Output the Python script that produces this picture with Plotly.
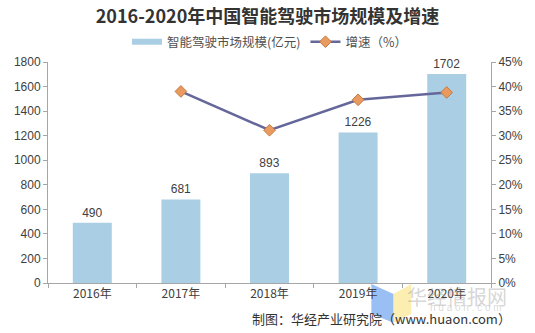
import plotly.graph_objects as go

years = ["2016年", "2017年", "2018年", "2019年", "2020年"]
market_size = [490, 681, 893, 1226, 1702]          # 亿元
growth_years = ["2017年", "2018年", "2019年", "2020年"]
growth_rate = [39.0, 31.1, 37.3, 38.8]             # %

left_ticks = [0, 200, 400, 600, 800, 1000, 1200, 1400, 1600, 1800]
right_ticks = [0, 5, 10, 15, 20, 25, 30, 35, 40, 45]

FONT = "Noto Sans CJK SC"
AXIS_COLOR = "#A6A6A6"
TEXT_COLOR = "#404040"
BAR_COLOR = "#AACFE4"

fig = go.Figure()

fig.add_trace(go.Bar(
    x=years, y=market_size,
    name="智能驾驶市场规模(亿元)",
    marker=dict(color=BAR_COLOR, line=dict(width=0)),
    text=[str(v) for v in market_size],
    textposition="outside",
    textfont=dict(size=12, color=TEXT_COLOR, family="Liberation Sans"),
    cliponaxis=False,
    showlegend=False,
    yaxis="y",
))

# wide flat swatch for the bar series in the legend
fig.add_trace(go.Scatter(
    x=[None], y=[None], mode="lines",
    name="智能驾驶市场规模(亿元)",
    line=dict(color=BAR_COLOR, width=6),
    yaxis="y",
))

fig.add_trace(go.Scatter(
    x=growth_years, y=growth_rate,
    name="增速（%）",
    mode="lines+markers",
    line=dict(color="#65679A", width=2.5),
    marker=dict(symbol="diamond", size=9, color="#E99A5E",
                line=dict(color="#C47A45", width=1)),
    yaxis="y2",
))

fig.update_layout(
    width=535, height=333,
    margin=dict(l=48, r=37, t=62, b=50),
    paper_bgcolor="white", plot_bgcolor="white",
    font=dict(family=FONT, color=TEXT_COLOR, size=12),
    title=dict(
        text="<b>2016-2020年中国智能驾驶市场规模及增速</b>",
        x=0.5, xanchor="center", y=0.95, yanchor="middle",
        font=dict(size=18, color="#333333", family=FONT),
    ),
    legend=dict(
        orientation="h", x=0.5, xanchor="center", y=1.09, yanchor="middle",
        font=dict(size=12.5, color="#505050", family=FONT),
        itemwidth=30, bgcolor="rgba(0,0,0,0)",
    ),
    bargap=0.56,
    showlegend=True,
    xaxis=dict(
        showline=True, linecolor=AXIS_COLOR, linewidth=1,
        ticks="outside", tickson="boundaries", ticklen=4, tickcolor=AXIS_COLOR,
        tickfont=dict(size=12, color=TEXT_COLOR, family=FONT),
        showgrid=False, zeroline=False,
    ),
    yaxis=dict(
        range=[0, 1800], tickvals=left_ticks,
        showline=True, linecolor=AXIS_COLOR, linewidth=1,
        ticks="outside", ticklen=4, tickcolor=AXIS_COLOR,
        tickfont=dict(size=12, color=TEXT_COLOR, family="Liberation Sans"),
        showgrid=False, zeroline=False,
    ),
    yaxis2=dict(
        range=[0, 45], tickvals=right_ticks,
        ticktext=[f"{t}%" for t in right_ticks],
        overlaying="y", side="right",
        showline=True, linecolor=AXIS_COLOR, linewidth=1,
        ticks="outside", ticklen=4, tickcolor=AXIS_COLOR,
        tickfont=dict(size=12, color=TEXT_COLOR, family="Liberation Sans"),
        showgrid=False, zeroline=False,
    ),
)

# faint site watermark
fig.add_shape(type="path", xref="paper", yref="paper",
              path="M 0.73,-0.005 L 0.78,-0.05 L 0.78,-0.18 L 0.73,-0.14 Z",
              fillcolor="rgba(120,170,240,0.75)", line=dict(width=0), layer="below")
fig.add_shape(type="path", xref="paper", yref="paper",
              path="M 0.78,-0.05 L 0.82,-0.005 L 0.82,-0.14 L 0.78,-0.18 Z",
              fillcolor="rgba(250,232,150,0.75)", line=dict(width=0), layer="below")
fig.add_annotation(
    text="华经情报网",
    xref="paper", yref="paper", x=1.04, y=-0.06,
    xanchor="right", yanchor="middle", showarrow=False,
    font=dict(size=20, color="rgba(150,150,150,0.4)", family=FONT),
)
fig.add_annotation(
    text="h u a o n . c o m",
    xref="paper", yref="paper", x=1.03, y=-0.11,
    xanchor="right", yanchor="middle", showarrow=False,
    font=dict(size=10, color="rgba(170,170,170,0.45)", family="Liberation Sans"),
)

# source note
fig.add_annotation(
    text="制图：华经产业研究院（www.huaon.com）",
    xref="paper", yref="paper", x=1.05, y=-0.16,
    xanchor="right", yanchor="middle", showarrow=False,
    font=dict(size=13, color="#333333", family=FONT),
)

fig.write_html("out.html")
